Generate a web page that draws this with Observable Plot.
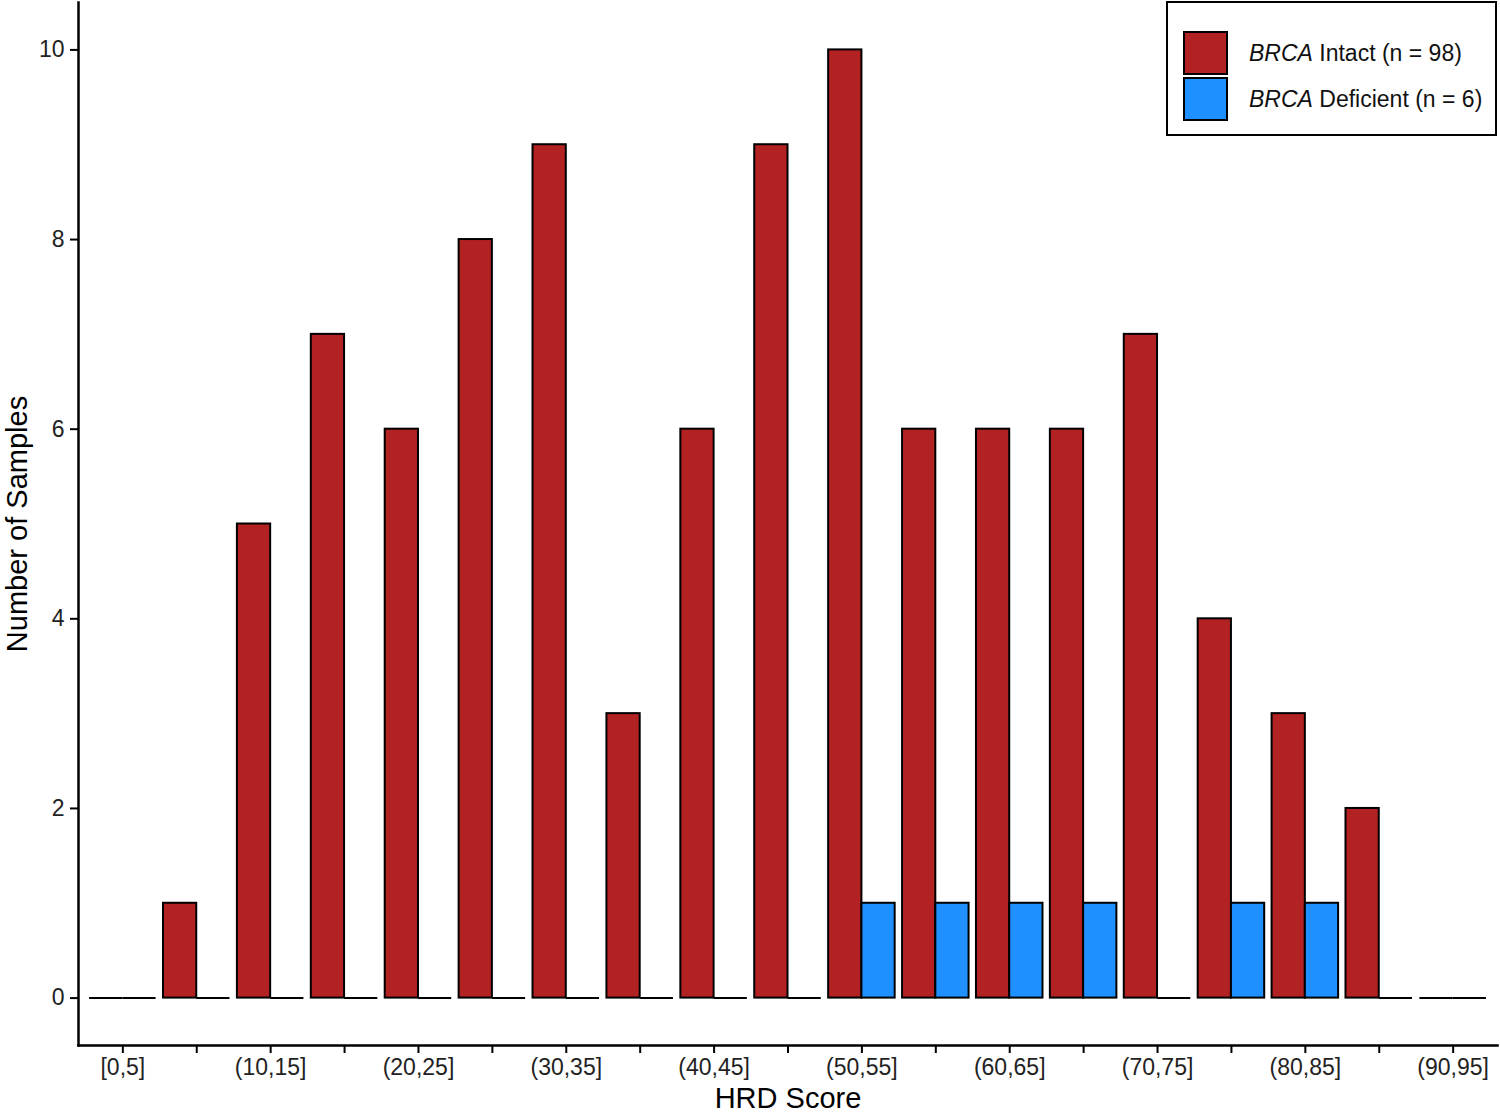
<!DOCTYPE html>
<html>
<head>
<meta charset="utf-8">
<script src="https://cdn.jsdelivr.net/npm/d3@7"></script>
<script src="https://cdn.jsdelivr.net/npm/@observablehq/plot@0.6"></script>
<style>
  body { margin: 0; background: white; font-family: "Liberation Sans", Arial, sans-serif; }
  #wrap { position: relative; width: 1500px; height: 1114px; }
  #legend { position: absolute; left: 1166px; top: 1px; width: 327px; height: 131px; border: 2px solid black; background: white; }
  .item { position: absolute; left: 15px; display: flex; align-items: center; }
  .sw { width: 41px; height: 40px; border: 2px solid black; box-sizing: content-box; }
  .lab { position: absolute; left: 66px; white-space: nowrap; font-size: 23px; color: #111; }
</style>
</head>
<body>
<div id="wrap">
  <div id="chart"></div>
  <div id="legend"></div>
</div>
<script>
const categories = ["[0,5]","(5,10]","(10,15]","(15,20]","(20,25]","(25,30]","(30,35]","(35,40]","(40,45]","(45,50]","(50,55]","(55,60]","(60,65]","(65,70]","(70,75]","(75,80]","(80,85]","(85,90]","(90,95]"];
const intact    = [0,1,5,7,6,8,9,3,6,9,10,6,6,6,7,4,3,2,0];
const deficient = [0,0,0,0,0,0,0,0,0,0,1,1,1,1,0,1,1,0,0];
const seriesNames = ["Intact", "Deficient"];
const seriesLabels = ["Intact (n = 98)", "Deficient (n = 6)"];
const seriesColors = ["#B22222", "#1E90FF"];
const yTicks = [0,2,4,6,8,10];

const data = categories.flatMap((c, i) => [
  {bin: c, series: "Intact", count: intact[i]},
  {bin: c, series: "Deficient", count: deficient[i]}
]);

const W = 1500, H = 1114, mL = 78, mR = 3, mT = 2, mB = 69;
const padIn = 0.1, padOut = 0.15;
const step = (W - mL - mR) / (categories.length - padIn + 2 * padOut);
const half = step * (1 - padIn) / 2;

const insetFor = s => s === "Intact" ? {insetRight: half} : {insetLeft: half};

const marks = [];
seriesNames.forEach((s, k) => {
  marks.push(Plot.barY(data.filter(d => d.series === s && d.count > 0), {
    x: "bin", y: "count", fill: seriesColors[k], stroke: "black", strokeWidth: 2, ...insetFor(s)
  }));
  marks.push(Plot.tickY(data.filter(d => d.series === s && d.count === 0), {
    x: "bin", y: "count", stroke: "black", strokeWidth: 2, ...insetFor(s)
  }));
});

const chart = Plot.plot({
  width: W, height: H,
  marginLeft: mL, marginRight: mR, marginTop: mT, marginBottom: mB,
  style: {fontFamily: "'Liberation Sans', Arial, sans-serif", fontSize: "23px", background: "white", color: "black"},
  x: {domain: categories, paddingInner: padIn, paddingOuter: padOut, round: false, label: null},
  y: {domain: [-0.5, 10.5], label: null},
  marks: [
    ...marks,
    Plot.axisX({tickSize: 8, tickPadding: 5, strokeWidth: 2, fill: "#222",
      tickFormat: d => categories.indexOf(d) % 2 === 0 ? d : "", label: null}),
    Plot.axisY(yTicks, {tickSize: 8, tickPadding: 6, strokeWidth: 2, fill: "#222", tickFormat: d => String(d), label: null}),
    Plot.frame({anchor: "left", strokeWidth: 2.5, stroke: "black"}),
    Plot.frame({anchor: "bottom", strokeWidth: 2.5, stroke: "black"}),
    Plot.text(["Number of Samples"], {frameAnchor: "left", rotate: -90, dx: -61, fontSize: 29, fill: "black", textAnchor: "middle", lineAnchor: "middle"}),
    Plot.text(["HRD Score"], {frameAnchor: "bottom", dy: 53, fontSize: 29, fill: "black", textAnchor: "middle", lineAnchor: "middle"})
  ]
});
document.getElementById("chart").appendChild(chart);

const legend = document.getElementById("legend");
seriesNames.forEach((s, k) => {
  const item = document.createElement("div");
  item.className = "item";
  item.style.top = (28 + k * 46) + "px";
  item.innerHTML = `<div class="sw" style="background:${seriesColors[k]}"></div><span class="lab"><i>BRCA</i> ${seriesLabels[k]}</span>`;
  legend.appendChild(item);
});
</script>
</body>
</html>
